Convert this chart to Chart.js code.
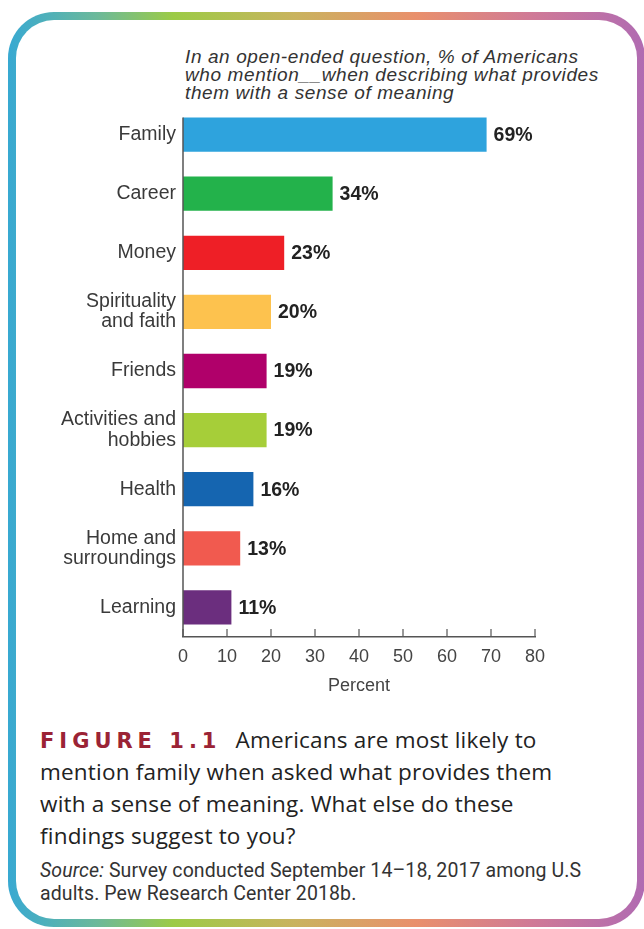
<!DOCTYPE html>
<html>
<head>
<meta charset="utf-8">
<script src="https://cdn.jsdelivr.net/npm/chart.js@4.4.0/dist/chart.umd.min.js"></script>
<style>
  html, body { margin: 0; padding: 0; background: #fff; }
  body { width: 644px; height: 929px; position: relative; overflow: hidden; font-family: "Liberation Sans", Arial, sans-serif; }
  #frame {
    position: absolute; left: 8px; top: 12px; width: 637px; height: 915px;
    box-sizing: border-box; border: 8px solid transparent; border-radius: 46px;
    background:
      linear-gradient(#fff, #fff) padding-box,
      linear-gradient(90deg, #38a9d2 0%, #6cb99a 14%, #9ccb46 26%, #c9b35e 45%, #e9906c 64%, #d07a96 82%, #b06bb2 100%) border-box;
  }
  #chart { position: absolute; left: 0; top: 0; }
  #subtitle {
    position: absolute; left: 185px; top: 48px; width: 450px; white-space: nowrap;
    font: italic 19px "Liberation Sans", Arial, sans-serif; line-height: 18px; letter-spacing: 0.6px; color: #333;
  }
  #caption {
    position: absolute; left: 40px; top: 724px; width: 590px; white-space: nowrap;
    font: 22.5px "Open Sans", sans-serif; line-height: 32px; letter-spacing: 0.2px; color: #222;
  }
  #caption .fig { font: bold 21px "DejaVu Sans", sans-serif; letter-spacing: 5px; color: #9b2335; margin-right: 14px; }
  #source {
    position: absolute; left: 40px; top: 859px; width: 590px; white-space: nowrap;
    font: 19.5px Roboto, sans-serif; line-height: 23px; letter-spacing: 0.1px; color: #333;
  }
</style>
</head>
<body>
<div id="frame"></div>
<div id="subtitle">In an open-ended question, % of Americans<br>who mention__when describing what provides<br>them with a sense of meaning</div>
<canvas id="chart" width="644" height="710"></canvas>
<div id="caption"><span class="fig">FIGURE 1.1</span>Americans are most likely to<br>mention family when asked what provides them<br>with a sense of meaning. What else do these<br>findings suggest to you?</div>
<div id="source"><i>Source:</i> Survey conducted September 14–18, 2017 among U.S<br>adults. Pew Research Center 2018b.</div>

<script>
// Categories (top to bottom) and % mentioning each
const categories = [
  'Family',
  'Career',
  'Money',
  ['Spirituality', 'and faith'],
  'Friends',
  ['Activities and', 'hobbies'],
  'Health',
  ['Home and', 'surroundings'],
  'Learning',
];
const percents = [69, 34, 23, 20, 19, 19, 16, 13, 11];
const barColors = ['#2ea3dd', '#23b24b', '#ee1f26', '#fdc24e', '#b0006a', '#a6ce39', '#1565b0', '#f15a4f', '#6b2e7e'];
const xTickValues = [0, 10, 20, 30, 40, 50, 60, 70, 80];

const AXIS_COLOR = '#555';
const FONT = '"Liberation Sans", Arial, sans-serif';

// Value labels at the end of each bar
const valueLabels = {
  id: 'valueLabels',
  afterDatasetsDraw(chart) {
    const { ctx } = chart;
    const meta = chart.getDatasetMeta(0);
    ctx.save();
    ctx.font = `bold 19.5px ${FONT}`;
    ctx.fillStyle = '#222';
    ctx.textAlign = 'left';
    ctx.textBaseline = 'middle';
    meta.data.forEach((bar, i) => {
      ctx.fillText(percents[i] + '%', bar.x + 7, bar.y + 1);
    });
    ctx.restore();
  },
};

// Axis lines: y-axis from the first bar top down, x ticks pointing up
const axisDecor = {
  id: 'axisDecor',
  afterDraw(chart) {
    const { ctx, chartArea, scales: { x } } = chart;
    const first = chart.getDatasetMeta(0).data[0];
    const top = first.y - first.height / 2;
    ctx.save();
    ctx.strokeStyle = AXIS_COLOR;
    ctx.lineWidth = 1.5;
    ctx.beginPath();
    ctx.moveTo(chartArea.left, top);
    ctx.lineTo(chartArea.left, chartArea.bottom);
    ctx.stroke();
    ctx.lineWidth = 1.2;
    xTickValues.forEach(v => {
      const px = x.getPixelForValue(v);
      ctx.beginPath();
      ctx.moveTo(px, chartArea.bottom);
      ctx.lineTo(px, chartArea.bottom - 8);
      ctx.stroke();
    });
    ctx.restore();
  },
};

new Chart(document.getElementById('chart'), {
  type: 'bar',
  data: {
    labels: categories,
    datasets: [{
      data: percents,
      backgroundColor: barColors,
      borderWidth: 0,
      barPercentage: 0.58,
      categoryPercentage: 1,
    }],
  },
  options: {
    indexAxis: 'y',
    responsive: false,
    animation: false,
    layout: { padding: { top: 105, right: 109, bottom: 13, left: 0 } },
    plugins: { legend: { display: false }, tooltip: { enabled: false } },
    scales: {
      y: {
        grid: { display: false, drawTicks: false },
        border: { display: false },
        ticks: { color: '#3a3a3a', font: { family: FONT, size: 19.5, lineHeight: 1.03 }, padding: 7, autoSkip: false },
        afterFit: s => { s.width = 183; },
      },
      x: {
        min: 0, max: 80,
        grid: { display: false, drawTicks: false },
        border: { display: true, color: AXIS_COLOR, width: 1.5 },
        ticks: { stepSize: 10, color: '#444', font: { family: FONT, size: 18 }, padding: 9 },
        title: { display: true, text: 'Percent', color: '#444', font: { family: FONT, size: 18 }, padding: { top: 0, bottom: 0 } },
        afterFit: s => { s.height = 60; },
      },
    },
  },
  plugins: [valueLabels, axisDecor],
});
</script>
</body>
</html>
